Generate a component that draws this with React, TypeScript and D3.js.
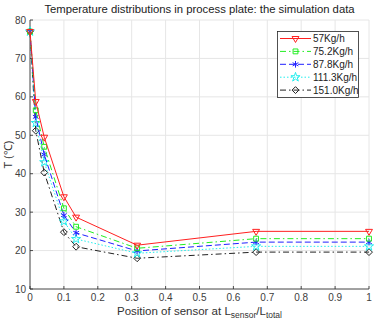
import * as d3 from "d3";
import { useEffect, useRef } from "react";

const positions = [0, 0.017, 0.042, 0.1, 0.136, 0.316, 0.667, 1];
const seriesNames = ["57Kg/h", "75.2Kg/h", "87.8Kg/h", "111.3Kg/h", "151.0Kg/h"];
const temp57 = [77, 58.8, 49.5, 34, 28.7, 21.4, 25, 25];
const temp75 = [77, 56.5, 47, 31, 26.2, 20.6, 23.1, 23.1];
const temp87 = [77, 54.8, 45, 29.2, 24.6, 19.9, 22.2, 22.2];
const temp111 = [77, 53.2, 43, 27.6, 23, 19.3, 21.1, 21.1];
const temp151 = [77, 51.2, 40.3, 24.8, 21, 18, 19.6, 19.6];
const xTicks = [0, 0.1, 0.2, 0.3, 0.4, 0.5, 0.6, 0.7, 0.8, 0.9, 1];
const yTicks = [10, 20, 30, 40, 50, 60, 70, 80];

const styles = [
  { color: "#ff2020", dash: "none", marker: "triangleDown" },
  { color: "#22ee22", dash: "6,3,1.5,3", marker: "square" },
  { color: "#2020ff", dash: "6,3", marker: "asterisk" },
  { color: "#22eeee", dash: "1.5,2", marker: "star" },
  { color: "#222222", dash: "6,3,1.5,3", marker: "diamond" },
];

export default function App() {
  const ref = useRef<SVGSVGElement>(null);

  useEffect(() => {
    document.body.style.margin = "0";
    if (!ref.current) return;
    const svg = d3.select(ref.current);
    svg.selectAll("*").remove();

    const W = 375, H = 324;
    const m = { top: 20, right: 6, bottom: 35, left: 30 };
    const font = "'Liberation Sans', Arial, sans-serif";
    const x = d3.scaleLinear().domain([0, 1]).range([m.left, W - m.right]);
    const y = d3.scaleLinear().domain([10, 80]).range([H - m.bottom, m.top]);

    const series = [temp57, temp75, temp87, temp111, temp151];

    // grid
    const grid = svg.append("g").attr("stroke", "#e6e6e6").attr("stroke-width", 1);
    xTicks.forEach(t => {
      grid.append("line").attr("x1", x(t)).attr("x2", x(t)).attr("y1", y(10)).attr("y2", y(80));
    });
    yTicks.forEach(t => {
      grid.append("line").attr("x1", x(0)).attr("x2", x(1)).attr("y1", y(t)).attr("y2", y(t));
    });

    // axes
    const axis = svg.append("g").attr("stroke", "#262626").attr("stroke-width", 0.8);
    axis.append("line").attr("x1", x(0)).attr("x2", x(0)).attr("y1", y(10)).attr("y2", y(80));
    axis.append("line").attr("x1", x(0)).attr("x2", x(1)).attr("y1", y(10)).attr("y2", y(10));
    xTicks.forEach(t => {
      axis.append("line").attr("x1", x(t)).attr("x2", x(t)).attr("y1", y(10)).attr("y2", y(10) - 3);
    });
    yTicks.forEach(t => {
      axis.append("line").attr("x1", x(0)).attr("x2", x(0) + 3).attr("y1", y(t)).attr("y2", y(t));
    });

    svg.append("g")
      .selectAll("text")
      .data(xTicks)
      .join("text")
      .attr("x", d => x(d))
      .attr("y", y(10) + 12)
      .attr("text-anchor", "middle")
      .attr("font-family", font)
      .attr("font-size", 10)
      .attr("fill", "#404040")
      .text(d => String(d));

    svg.append("g")
      .selectAll("text")
      .data(yTicks)
      .join("text")
      .attr("x", x(0) - 4)
      .attr("y", d => y(d) + 3.5)
      .attr("text-anchor", "end")
      .attr("font-family", font)
      .attr("font-size", 10)
      .attr("fill", "#404040")
      .text(d => String(d));

    svg.append("text")
      .attr("x", (x(0) + x(1)) / 2)
      .attr("y", 13)
      .attr("text-anchor", "middle")
      .attr("font-family", font)
      .attr("font-size", 11.3)
      .attr("fill", "#222")
      .text("Temperature distributions in process plate: the simulation data");

    const xl = svg.append("text")
      .attr("x", (x(0) + x(1)) / 2)
      .attr("y", 314.5)
      .attr("text-anchor", "middle")
      .attr("font-family", font)
      .attr("font-size", 11.5)
      .attr("fill", "#333");
    xl.append("tspan").text("Position of sensor at L");
    xl.append("tspan").attr("font-size", 8.5).attr("dy", 3).text("sensor");
    xl.append("tspan").attr("dy", -3).text("/L");
    xl.append("tspan").attr("font-size", 8.5).attr("dy", 3).text("total");

    svg.append("text")
      .attr("transform", `translate(12,${(y(10) + y(80)) / 2}) rotate(-90)`)
      .attr("text-anchor", "middle")
      .attr("font-family", font)
      .attr("font-size", 11)
      .attr("fill", "#333")
      .text("T (℃)");

    const symbolFor = (name: string) => {
      switch (name) {
        case "square": return d3.symbol(d3.symbolSquare2, 30);
        case "asterisk": return d3.symbol(d3.symbolAsterisk, 30);
        case "star": return d3.symbol(d3.symbolStar, 26);
        case "diamond": return d3.symbol(d3.symbolDiamond2, 30);
        default: return d3.symbol(d3.symbolTriangle2, 34);
      }
    };

    const drawMarker = (g: d3.Selection<SVGGElement, unknown, null, undefined>, name: string, cx: number, cy: number, color: string) => {
      const rot = name === "triangleDown" ? " rotate(180)" : "";
      g.append("path")
        .attr("d", symbolFor(name)()!)
        .attr("transform", `translate(${cx},${cy})${rot}`)
        .attr("fill", "none")
        .attr("stroke", color)
        .attr("stroke-width", 1);
    };

    const line = d3.line<number>()
      .x((_, i) => x(positions[i]))
      .y(d => y(d));

    // draw last series first so the red one ends on top
    series.map((s, i) => ({ s, i })).reverse().forEach(({ s, i }) => {
      const st = styles[i];
      const g = svg.append("g");
      g.append("path")
        .attr("d", line(s)!)
        .attr("fill", "none")
        .attr("stroke", st.color)
        .attr("stroke-width", 1)
        .attr("stroke-dasharray", st.dash);
      s.forEach((v, j) => drawMarker(g, st.marker, x(positions[j]), y(v), st.color));
    });

    // legend
    const lg = svg.append("g");
    lg.append("rect")
      .attr("x", 277.5).attr("y", 31.5)
      .attr("width", 81).attr("height", 66)
      .attr("fill", "#fff")
      .attr("stroke", "#262626")
      .attr("stroke-width", 0.8);
    seriesNames.forEach((name, i) => {
      const st = styles[i];
      const yy = 38.5 + i * 12.9;
      const g = lg.append("g");
      g.append("line")
        .attr("x1", 280).attr("x2", 311)
        .attr("y1", yy).attr("y2", yy)
        .attr("stroke", st.color)
        .attr("stroke-width", 1)
        .attr("stroke-dasharray", st.dash);
      drawMarker(g, st.marker, 295.5, yy, st.color);
      g.append("text")
        .attr("x", 313)
        .attr("y", yy + 3.5)
        .attr("font-family", font)
        .attr("font-size", 10)
        .attr("fill", "#222")
        .text(name);
    });
  }, []);

  return <svg ref={ref} width={375} height={324} style={{ display: "block", background: "#fff" }} />;
}
